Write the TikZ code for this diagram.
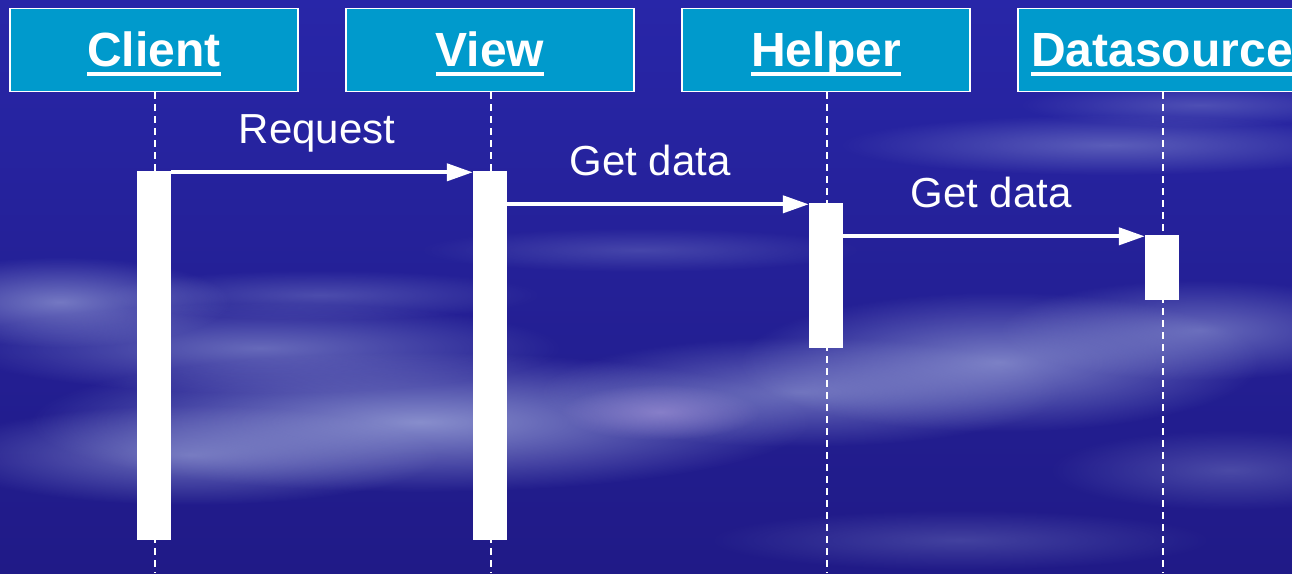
\documentclass[tikz,border=0pt]{standalone}
\usepackage{fontspec}
\setmainfont{Liberation Sans}
\usetikzlibrary{arrows.meta,fadings}
\tikzfading[name=softblob, inner color=transparent!0, outer color=transparent!100]
\definecolor{bgtop}{RGB}{40,38,168}
\definecolor{bgmid}{RGB}{36,32,150}
\definecolor{bgbot}{RGB}{32,26,135}
\definecolor{cloud}{RGB}{170,180,225}
\definecolor{lilac}{RGB}{190,170,230}
\definecolor{hdrfill}{RGB}{0,154,204}
\newcommand\hdrul[1]{\setbox0\hbox{#1}\rlap{\smash{\rule[-9.5pt]{\wd0}{4pt}}}\box0}
\begin{document}
\begin{tikzpicture}[x=1pt,y=-1pt,
  hdr/.style={draw=white,line width=1.2pt,fill=hdrfill,minimum width=288pt,minimum height=83pt,
    inner sep=0pt,text height=32pt,text depth=0pt,text=white,font=\fontsize{48}{48}\selectfont\bfseries},
  lifeline/.style={draw=white,line width=1.4pt,dash pattern=on 7pt off 5pt},
  actbar/.style={fill=white,draw=none,minimum width=34pt,inner sep=0pt},
  msg/.style={draw=white,line width=4pt,-{Triangle[length=26pt,width=17pt]}},
  lbl/.style={text=white,font=\fontsize{42}{42}\selectfont,inner sep=0pt},
  blob/.style={fill=cloud,path fading=softblob}]
\useasboundingbox (0,0) rectangle (1292,573);
% background
\shade[top color=bgtop,bottom color=bgbot,middle color=bgmid] (0,0) rectangle (1292,573);
% clouds
\begin{scope}
\fill[blob,opacity=0.6] (60,302) ellipse (170 and 45);
\fill[blob,opacity=0.5] (260,348) ellipse (300 and 45);
\fill[blob,opacity=0.75] (420,422) ellipse (390 and 70);
\fill[blob,opacity=0.55] (190,455) ellipse (250 and 50);
\fill[blob,opacity=0.55] (800,392) ellipse (260 and 55);
\fill[lilac,path fading=softblob,opacity=0.45] (660,412) ellipse (100 and 28);
\fill[blob,opacity=0.65] (1000,362) ellipse (260 and 70);
\fill[blob,opacity=0.5] (1200,330) ellipse (200 and 50);
\fill[blob,opacity=0.4] (1110,145) ellipse (270 and 30);
\fill[blob,opacity=0.3] (1200,105) ellipse (180 and 22);
\fill[blob,opacity=0.3] (1230,470) ellipse (180 and 40);
\fill[blob,opacity=0.25] (960,540) ellipse (250 and 30);
\fill[blob,opacity=0.3] (320,295) ellipse (220 and 25);
\fill[blob,opacity=0.25] (640,250) ellipse (220 and 22);
\end{scope}
% headers
\node[hdr] (client) at (154,50) {\hdrul{Client}};
\node[hdr] (view) at (490,50) {\hdrul{View}};
\node[hdr] (helper) at (826,50) {\hdrul{Helper}};
\node[hdr] (datasrc) at (1162,50) {\hdrul{Datasource}};
% lifeline ends
\coordinate (cend) at (155,573);
\coordinate (vend) at (491,573);
\coordinate (hend) at (827,573);
\coordinate (dend) at (1163,573);
\draw[lifeline] (client.south -| cend) -- (cend);
\draw[lifeline] (view.south -| vend) -- (vend);
\draw[lifeline] (helper.south -| hend) -- (hend);
\draw[lifeline] (datasrc.south -| dend) -- (dend);
% activation bars
\node[actbar,minimum height=369pt] (cbar) at (154,355.5) {};
\node[actbar,minimum height=369pt] (vbar) at (490,355.5) {};
\node[actbar,minimum height=145pt] (hbar) at (826,275.5) {};
\node[actbar,minimum height=65pt] (dbar) at (1162,267.5) {};
% messages
\draw[msg] ([yshift=-1.5pt]vbar.north west -| cbar.east) -- ([yshift=-1.5pt]vbar.north west);
\draw[msg] ([yshift=-1.5pt]hbar.north west -| vbar.east) -- ([yshift=-1.5pt]hbar.north west);
\draw[msg] ([yshift=-1.5pt]dbar.north west -| hbar.east) -- ([yshift=-1.5pt]dbar.north west);
% labels
\node[lbl,anchor=base] (l1) at (317,143) {Request};
\node[lbl,anchor=base] (l2) at (650,175) {Get data};
\node[lbl,anchor=base] (l3) at (991,207) {Get data};
\end{tikzpicture}
\end{document}
